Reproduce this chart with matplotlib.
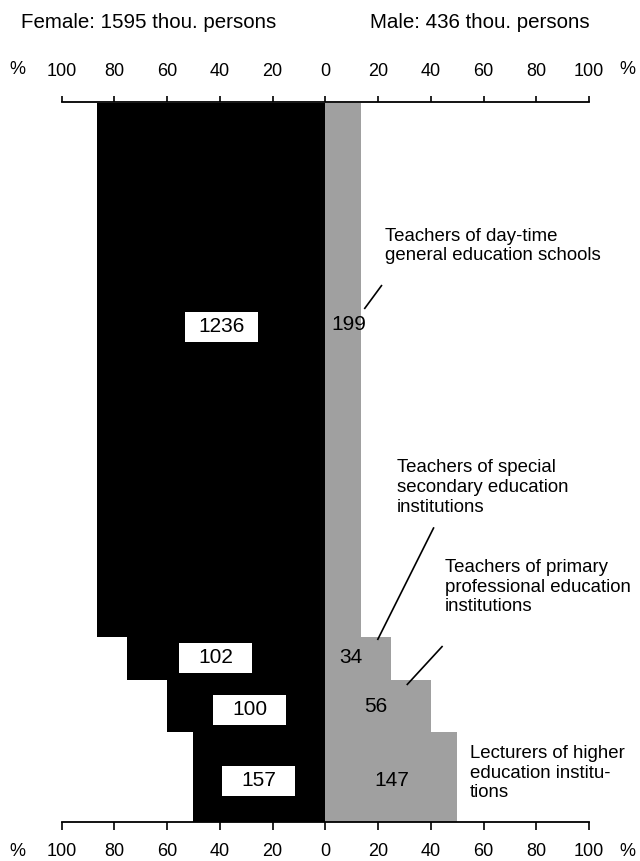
import matplotlib
matplotlib.use("Agg")
import matplotlib.pyplot as plt
from matplotlib.patches import Rectangle
import numpy as np

plt.rcParams['font.family'] = ['Liberation Sans', 'DejaVu Sans']

# ---- data ----
categories = [
    "Teachers of day-time\ngeneral education schools",
    "Teachers of special\nsecondary education\ninstitutions",
    "Teachers of primary\nprofessional education\ninstitutions",
    "Lecturers of higher\neducation institu-\ntions",
]
female_thou = [1236, 102, 100, 157]
male_thou = [199, 34, 56, 147]
female_pct = [86.4, 75.0, 60.0, 50.0]
male_pct = [13.6, 25.0, 40.0, 50.0]
band_size = [534, 43, 52, 90]          # drawn band heights (relative units)
female_total = 1595
male_total = 436
tick_vals = [-100, -80, -60, -40, -20, 0, 20, 40, 60, 80, 100]
tick_labels = ["100", "80", "60", "40", "20", "0", "20", "40", "60", "80", "100"]

BLACK = "#000000"
GREY = "#a0a0a0"

W, H = 640, 861
fig = plt.figure(figsize=(W / 100, H / 100), dpi=100)
ax_left, ax_right = 61.5 / W, 589 / W
ax_top, ax_bot = 1 - 102.5 / H, 1 - 821.5 / H
ax = fig.add_axes([ax_left, ax_bot, ax_right - ax_left, ax_top - ax_bot])

sizes = np.array(band_size, dtype=float)
edges = np.concatenate([[0], np.cumsum(sizes)])
centers = (edges[:-1] + edges[1:]) / 2
total = edges[-1]

ax.barh(centers, -np.array(female_pct), height=sizes, left=0, color=BLACK,
        edgecolor="none", linewidth=0)
ax.barh(centers, male_pct, height=sizes, left=0, color=GREY,
        edgecolor="none", linewidth=0)

ax.set_xlim(-100, 100)
ax.set_ylim(total, 0)

# spines / axes
for s in ["left", "right", "top"]:
    ax.spines[s].set_visible(False)
ax.spines["bottom"].set_linewidth(1.3)
ax.set_yticks([])
ax.set_xticks(tick_vals)
ax.set_xticklabels(tick_labels)
ax.tick_params(axis="x", direction="out", length=5.5, width=1.2,
               labelsize=13, pad=10, bottom=True, labelbottom=True)
sec = ax.secondary_xaxis("top")
sec.set_xticks(tick_vals)
sec.set_xticklabels(tick_labels)
sec.spines["top"].set_linewidth(1.3)
sec.tick_params(axis="x", direction="out", length=4.5, width=1.2,
                labelsize=13, pad=12)

# % signs at the ends of the axes
for yy in [-32.5, total + 29.5]:
    ax.text(-100 - 44.5 / 2.643, yy, "%", ha="center", va="center",
            fontsize=13, clip_on=False)
    ax.text(100 + 38 / 2.643, yy, "%", ha="center", va="center",
            fontsize=13, clip_on=False)

# titles
fig.text(21 / W, 1 - 23 / H, f"Female: {female_total} thou. persons",
         ha="left", va="center", fontsize=14.8)
fig.text(370 / W, 1 - 23 / H, f"Male: {male_total} thou. persons",
         ha="left", va="center", fontsize=14.8)

# female value labels in white boxes
f_pos = [(-39.3, 224), (-41.6, 555), (-28.7, 607), (-25.3, 678)]
box_w, box_h = 27.5, 30
for (x, y), v in zip(f_pos, female_thou):
    ax.add_patch(Rectangle((x - box_w / 2, y - box_h / 2), box_w, box_h,
                           facecolor="white", edgecolor="none", zorder=3))
    ax.text(x, y, str(v), ha="center", va="center", fontsize=15, zorder=4)

# male value labels
m_pos = [(9.1, 222), (9.8, 555), (19.3, 604.5), (25.3, 677.5)]
for (x, y), v in zip(m_pos, male_thou):
    ax.text(x, y, str(v), ha="center", va="center", fontsize=15, zorder=4,
            clip_on=False)

# category labels
c_pos = [(22.7, 143.5), (27.1, 385), (45.4, 484.5), (54.9, 670.5)]
for (x, y), t in zip(c_pos, categories):
    ax.text(x, y, t, ha="left", va="center", fontsize=13.4,
            linespacing=1.2, clip_on=False)

# leader lines
leaders = [((21.5, 182.5), (14.8, 206.5)),
           ((41.2, 424.8), (19.8, 537.5)),
           ((44.5, 543.5), (30.9, 582.5))]
for (x0, y0), (x1, y1) in leaders:
    ax.plot([x0, x1], [y0, y1], color="black", lw=1.2, solid_capstyle="butt")

fig.savefig("out.png", dpi=100)
